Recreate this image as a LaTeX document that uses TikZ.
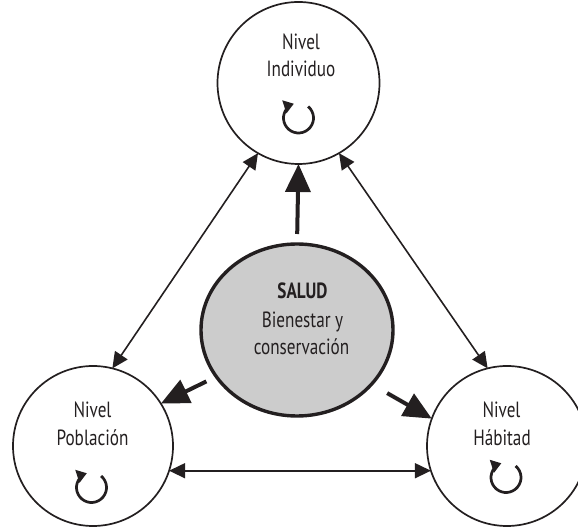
\documentclass[tikz,border=0pt]{standalone}
\usepackage{fontspec}
\setmainfont[FakeStretch=0.78]{PT Sans}
\usetikzlibrary{arrows.meta,shapes.geometric}
\definecolor{ink}{RGB}{35,31,32}
\definecolor{saludfill}{RGB}{204,204,204}

\tikzset{
  level/.style={circle, draw=ink, line width=1.7pt, minimum size=#1, inner sep=0pt, outer sep=0pt},
  hub/.style={ellipse, draw=ink, fill=saludfill, line width=3.4pt, minimum width=192pt, minimum height=172pt, inner sep=0pt, outer sep=0pt},
  lbl/.style={anchor=base, text=ink, font=\fontsize{22}{27}\selectfont, inner sep=0pt},
  boldlbl/.style={lbl, font=\fontsize{22}{27}\selectfont\bfseries},
  link/.style={draw=ink, line width=1.6pt, {Triangle[length=16pt,width=15pt]}-{Triangle[length=16pt,width=15pt]}},
  push/.style={draw=ink, line width=4pt, -{Triangle[length=28pt,width=25pt]}},
  cycle/.style={draw=ink, line width=2.7pt, -{Triangle[length=10pt,width=13pt]}}
}

% clockwise open-circle arrow centred on the given node
\newcommand{\cyclemark}[1]{%
  \draw[cycle] (#1) ++(50:15pt) arc[start angle=50, end angle=-252, radius=15pt];}

\begin{document}
\begin{tikzpicture}[x=1pt,y=1pt]
  \useasboundingbox (0,0) rectangle (578,527);

  % the three levels and the central hub
  \node[level=162pt] (ind) at (298.5,444) {};
  \node[level=160pt] (pob) at (93,81) {};
  \node[level=160pt] (hab) at (507,81) {};
  \node[hub] (salud) at (297,197) {};

  % labels
  \node[lbl] (indA) at (301,477) {Nivel};
  \node[lbl] (indB) at (301,450) {Individuo};
  \node[lbl] (pobA) at (92.5,109) {Nivel};
  \node[lbl] (pobB) at (92.5,81) {Población};
  \node[lbl] (habA) at (501.5,109) {Nivel};
  \node[lbl] (habB) at (502,81) {Hábitad};
  \node[boldlbl] (saludA) at (302.5,228) {SALUD};
  \node[lbl] (saludB) at (302.5,199) {Bienestar y};
  \node[lbl] (saludC) at (301.5,172) {conservación};

  % cycle marks
  \coordinate (indC) at (298.5,409);
  \coordinate (pobC) at (91.5,39.5);
  \coordinate (habC) at (506,49.5);
  \cyclemark{indC}
  \cyclemark{pobC}
  \cyclemark{habC}

  % links between levels
  \draw[link] (ind.240) -- (pob.76);
  \draw[link] (ind.300) -- (hab.104);
  \draw[link] (pob.-18) -- (hab.198);

  % influence of the hub on each level
  \draw[push, shorten <=10pt] (salud.north) -- (ind.south);
  \draw[push, shorten <=11pt] (salud.210) -- (pob.32);
  \draw[push, shorten <=18pt] (salud.-36) -- (hab.160);
\end{tikzpicture}
\end{document}
